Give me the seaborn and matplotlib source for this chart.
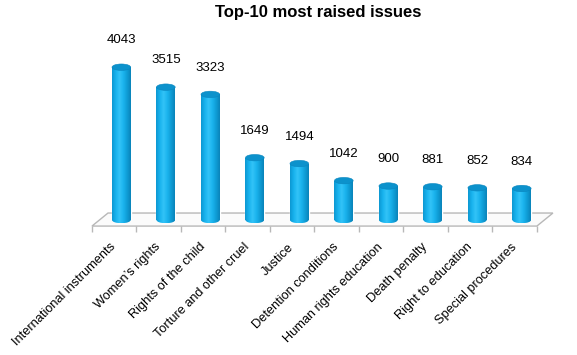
import numpy as np
import pandas as pd
import matplotlib
matplotlib.use("Agg")
import matplotlib.pyplot as plt
import seaborn as sns
from matplotlib.colors import LinearSegmentedColormap
from matplotlib.patches import Ellipse, Polygon

issues = [
    "International instruments",
    "Women’s rights",
    "Rights of the child",
    "Torture and other cruel",
    "Justice",
    "Detention conditions",
    "Human rights education",
    "Death penalty",
    "Right to education",
    "Special procedures",
]
counts = [4043, 3515, 3323, 1649, 1494, 1042, 900, 881, 852, 834]

df = pd.DataFrame({"issue": issues, "count": counts})

sns.set_style("white")
plt.rcParams["font.family"] = ["Liberation Sans", "DejaVu Sans"]

fig = plt.figure(figsize=(5.77, 3.55), dpi=100)
ax = fig.add_axes([0.1386, 0.352, 0.832, 0.5634])

bar_w = 0.42
sns.barplot(data=df, x="issue", y="count", color="#12aee8", width=bar_w,
            ax=ax, saturation=1, zorder=3)

ax.set_ylim(-265, 5026)
ax.set_xlim(-0.93, 9.86)

# floor of the 3D plot (in data units, bars sit at the floor middle)
n = len(issues)
off = 0.16
floor = Polygon([(-0.5 - off, -160), (n - 0.5 - off, -160),
                 (n - 0.5 - off + 0.36, 185), (-0.5 - off + 0.36, 185)],
                closed=True, facecolor="#fbfbfb", edgecolor="#b8b8b8",
                lw=1.0, zorder=1)
ax.add_patch(floor)
edges = np.arange(n + 1) - 0.5 - off
ax.vlines(edges, -330, -160, color="#b8b8b8", lw=1.0, zorder=1, clip_on=False)

# cylinder shading
cmap = LinearSegmentedColormap.from_list(
    "cyl", ["#0c98d2", "#18b3ee", "#33c3f7", "#1bb4ee", "#0f9dd6", "#0a84ba"])
grad = np.linspace(0, 1, 64).reshape(1, -1)
cap_h = 170
for p in list(ax.patches):
    if isinstance(p, Polygon):
        continue
    x0, w, h = p.get_x(), p.get_width(), p.get_height()
    im = ax.imshow(grad, cmap=cmap, aspect="auto",
                   extent=[x0, x0 + w, 0, h], zorder=3)
    im.set_clip_path(p)
    bottom = Ellipse((x0 + w / 2, 0), w, cap_h, facecolor="none",
                     edgecolor="none", zorder=3.1)
    ax.add_patch(bottom)
    im2 = ax.imshow(grad, cmap=cmap, aspect="auto",
                    extent=[x0, x0 + w, -cap_h / 2, 0], zorder=3.1)
    im2.set_clip_path(bottom)
    ax.add_patch(Ellipse((x0 + w / 2, h), w, cap_h, facecolor="#0c92cc",
                         edgecolor="#0a86bf", lw=0.4, zorder=4))

ax.bar_label(ax.containers[0], padding=15, fontsize=9.5, color="black")

ax.set_xticks(np.arange(n) - off)
ax.set_xticklabels(issues, rotation=45, ha="right", va="center",
                   rotation_mode="anchor", fontsize=9.2, color="black")
ax.tick_params(axis="x", length=0, pad=11)
ax.set_yticks([])
ax.set_xlabel("")
ax.set_ylabel("")
sns.despine(ax=ax, left=True, bottom=True)
ax.set_facecolor("none")

fig.suptitle("Top-10 most raised issues", x=0.551, y=0.985,
             fontsize=12, fontweight="bold", color="black")

fig.savefig("out.png", dpi=100)
